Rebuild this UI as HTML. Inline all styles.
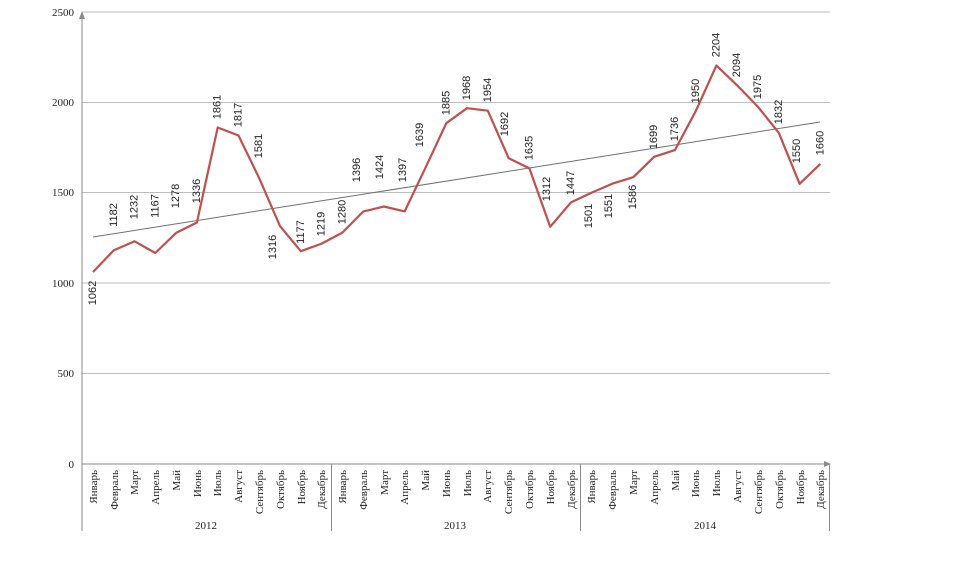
<!DOCTYPE html>
<html><head><meta charset="utf-8"><style>
html,body{margin:0;padding:0;background:#fff;}
svg{display:block;}
.ax{font-family:"Liberation Serif",serif;font-size:11px;fill:#222;}
.v{font-family:"Liberation Sans",sans-serif;font-size:11px;fill:#222;}
</style></head><body>
<svg width="971" height="585" xmlns="http://www.w3.org/2000/svg">
<g stroke="#bdbdbd" stroke-width="1">
<line x1="82" y1="12" x2="830" y2="12"/>
<line x1="82" y1="102.5" x2="830" y2="102.5"/>
<line x1="82" y1="192.5" x2="830" y2="192.5"/>
<line x1="82" y1="283" x2="830" y2="283"/>
<line x1="82" y1="373.5" x2="830" y2="373.5"/>
</g>
<g stroke="#8a8a8a" stroke-width="1">
<line x1="82" y1="14" x2="82" y2="531"/>
<line x1="82" y1="464" x2="826" y2="464"/>
<line x1="331.5" y1="464" x2="331.5" y2="531"/>
<line x1="580.5" y1="464" x2="580.5" y2="531"/>
<line x1="829.5" y1="464" x2="829.5" y2="531"/>
</g>
<polygon points="79,19 85,19 82,11" fill="#8a8a8a"/>
<polygon points="824,461 824,467 831,464" fill="#8a8a8a"/>
<g class="ax" text-anchor="end">
<text x="74" y="16">2500</text><text x="74" y="106">2000</text><text x="74" y="196">1500</text>
<text x="74" y="287">1000</text><text x="74" y="377">500</text><text x="74" y="468">0</text>
</g>
<g class="ax" text-anchor="middle">
<text x="206" y="529">2012</text><text x="455" y="529">2013</text><text x="705" y="529">2014</text>
</g>
<g class="ax" text-anchor="end">
<text transform="translate(97,470) rotate(-90)">Январь</text>
<text transform="translate(118,470) rotate(-90)">Февраль</text>
<text transform="translate(138,470) rotate(-90)">Март</text>
<text transform="translate(159,470) rotate(-90)">Апрель</text>
<text transform="translate(180,470) rotate(-90)">Май</text>
<text transform="translate(201,470) rotate(-90)">Июнь</text>
<text transform="translate(221,470) rotate(-90)">Июль</text>
<text transform="translate(242,470) rotate(-90)">Август</text>
<text transform="translate(263,470) rotate(-90)">Сентябрь</text>
<text transform="translate(284,470) rotate(-90)">Октябрь</text>
<text transform="translate(305,470) rotate(-90)">Ноябрь</text>
<text transform="translate(325,470) rotate(-90)">Декабрь</text>
<text transform="translate(346,470) rotate(-90)">Январь</text>
<text transform="translate(367,470) rotate(-90)">Февраль</text>
<text transform="translate(388,470) rotate(-90)">Март</text>
<text transform="translate(408,470) rotate(-90)">Апрель</text>
<text transform="translate(429,470) rotate(-90)">Май</text>
<text transform="translate(450,470) rotate(-90)">Июнь</text>
<text transform="translate(471,470) rotate(-90)">Июль</text>
<text transform="translate(491,470) rotate(-90)">Август</text>
<text transform="translate(512,470) rotate(-90)">Сентябрь</text>
<text transform="translate(533,470) rotate(-90)">Октябрь</text>
<text transform="translate(554,470) rotate(-90)">Ноябрь</text>
<text transform="translate(575,470) rotate(-90)">Декабрь</text>
<text transform="translate(595,470) rotate(-90)">Январь</text>
<text transform="translate(616,470) rotate(-90)">Февраль</text>
<text transform="translate(637,470) rotate(-90)">Март</text>
<text transform="translate(658,470) rotate(-90)">Апрель</text>
<text transform="translate(679,470) rotate(-90)">Май</text>
<text transform="translate(699,470) rotate(-90)">Июнь</text>
<text transform="translate(720,470) rotate(-90)">Июль</text>
<text transform="translate(741,470) rotate(-90)">Август</text>
<text transform="translate(762,470) rotate(-90)">Сентябрь</text>
<text transform="translate(783,470) rotate(-90)">Октябрь</text>
<text transform="translate(804,470) rotate(-90)">Ноябрь</text>
<text transform="translate(824,470) rotate(-90)">Декабрь</text>
</g>
<line x1="93" y1="237" x2="820" y2="122" stroke="#707070" stroke-width="1"/>
<polyline fill="none" stroke="#c0504d" stroke-width="2.2" stroke-linejoin="round" points="93,272 113.8,250.3 134.6,241.3 155.3,253 176.1,232.9 196.9,222.5 217.7,127.5 238.5,135.5 259.2,178.2 280,226.1 300.8,251.2 321.6,243.6 342.4,232.6 363.1,211.6 383.9,206.5 404.7,211.4 425.5,167.7 446.3,123.2 467,108.2 487.8,110.7 508.6,158.1 529.4,168.4 550.2,226.8 571,202.4 591.7,192.6 612.5,183.6 633.3,177.2 654.1,156.8 674.9,150.1 695.6,111.4 716.4,65.5 737.2,85.4 758,106.9 778.8,132.8 799.6,183.8 820.3,163.9"/>
<g class="v" text-anchor="middle" dominant-baseline="central">
<text transform="translate(93,293) rotate(-90)">1062</text>
<text transform="translate(113.8,215) rotate(-90)">1182</text>
<text transform="translate(134.6,207) rotate(-90)">1232</text>
<text transform="translate(155.3,206) rotate(-90)">1167</text>
<text transform="translate(176.1,196) rotate(-90)">1278</text>
<text transform="translate(196.9,191) rotate(-90)">1336</text>
<text transform="translate(217.7,107) rotate(-90)">1861</text>
<text transform="translate(238.5,115) rotate(-90)">1817</text>
<text transform="translate(259.2,146) rotate(-90)">1581</text>
<text transform="translate(273,247) rotate(-90)">1316</text>
<text transform="translate(300.8,232) rotate(-90)">1177</text>
<text transform="translate(321.6,224) rotate(-90)">1219</text>
<text transform="translate(342.4,212) rotate(-90)">1280</text>
<text transform="translate(357,170) rotate(-90)">1396</text>
<text transform="translate(380,167) rotate(-90)">1424</text>
<text transform="translate(403,170) rotate(-90)">1397</text>
<text transform="translate(420,135) rotate(-90)">1639</text>
<text transform="translate(446.3,103) rotate(-90)">1885</text>
<text transform="translate(467,88) rotate(-90)">1968</text>
<text transform="translate(487.8,90) rotate(-90)">1954</text>
<text transform="translate(505,124) rotate(-90)">1692</text>
<text transform="translate(529.4,148) rotate(-90)">1635</text>
<text transform="translate(547,189) rotate(-90)">1312</text>
<text transform="translate(571,183) rotate(-90)">1447</text>
<text transform="translate(589,216) rotate(-90)">1501</text>
<text transform="translate(609,206) rotate(-90)">1551</text>
<text transform="translate(633,197) rotate(-90)">1586</text>
<text transform="translate(654,137) rotate(-90)">1699</text>
<text transform="translate(674.9,129) rotate(-90)">1736</text>
<text transform="translate(696,91) rotate(-90)">1950</text>
<text transform="translate(716.4,45) rotate(-90)">2204</text>
<text transform="translate(737.2,65) rotate(-90)">2094</text>
<text transform="translate(758,87) rotate(-90)">1975</text>
<text transform="translate(779,112) rotate(-90)">1832</text>
<text transform="translate(797,151) rotate(-90)">1550</text>
<text transform="translate(820.3,143) rotate(-90)">1660</text>
</g>
</svg>
</body></html>
